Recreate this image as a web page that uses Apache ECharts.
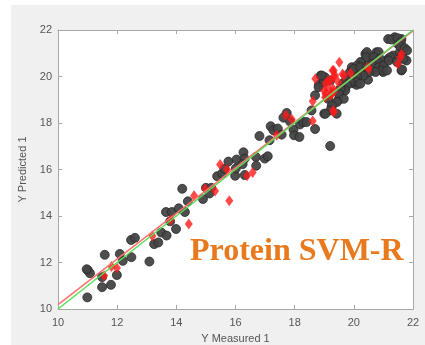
<!DOCTYPE html>
<html>
<head>
<meta charset="utf-8">
<script src="https://cdn.jsdelivr.net/npm/echarts@6/dist/echarts.min.js"></script>
<style>
  html, body { margin: 0; padding: 0; background: #ffffff; }
  #chart { width: 425px; height: 345px; }
</style>
</head>
<body>
<div id="chart"></div>
<script>
// Axis ticks (both axes share the same range)
const tickValues = [10, 12, 14, 16, 18, 20, 22];

// Training samples: [measured, predicted]
const trainPoints = [
  [10.99,10.5],[11.01,11.66],[11.08,11.54],[10.97,11.71],[11.58,12.33],[11.49,11.37],
  [11.49,10.94],[11.79,11.04],[11.99,11.46],[12.09,12.37],[12.19,12.07],[12.47,12.97],
  [12.6,13.06],[12.48,12.23],[13.09,12.04],[13.25,12.79],[13.39,12.86],[13.49,13.29],
  [13.67,13.16],[13.65,14.17],[13.85,14.17],[13.79,13.77],[13.99,13.44],[14.08,14.33],
  [14.2,15.17],[14.29,14.17],[14.39,14.63],[14.9,14.73],[15.0,15.21],[15.18,15.21],
  [15.12,14.97],[15.38,15.71],[15.55,15.83],[15.63,16.03],[15.76,16.34],[15.99,15.73],
  [16.01,16.04],[16.04,16.43],[16.27,16.74],[16.31,16.47],[16.31,15.76],[16.24,16.23],
  [16.69,16.54],[16.7,16.16],[16.81,17.44],[16.99,16.47],[17.09,16.57],[17.15,17.26],
  [17.19,17.86],[17.28,17.69],[17.43,17.76],[17.56,17.5],[17.62,18.23],[17.73,18.43],
  [17.84,18.07],[17.96,17.71],[17.98,17.47],[18.16,17.4],[18.18,17.94],[18.29,18.04],
  [18.4,18.04],[18.69,17.74],[18.57,18.54],[18.69,19.19],[18.82,19.64],[18.88,20.04],
  [19.02,19.97],[19.0,18.4],[19.2,17.01],[19.13,19.04],[19.25,18.69],[19.2,19.83],
  [19.42,18.4],[19.47,18.97],[19.53,19.26],[19.64,19.71],[19.7,19.5],[19.75,19.86],
  [19.87,20.19],[19.93,20.4],[19.98,19.71],[20.09,19.64],[20.15,20.07],[20.2,20.4],
  [20.26,20.61],[20.31,20.19],[20.39,20.97],[20.48,19.86],[20.54,20.33],[20.6,20.69],
  [20.65,20.26],[20.71,20.83],[20.76,21.04],[20.88,20.47],[20.94,20.61],[20.99,20.19],
  [21.16,20.76],[21.16,21.61],[21.38,21.69],[21.49,21.4],[21.61,21.61],[21.66,21.19],
  [21.61,20.26],[21.78,20.69],[21.33,20.9],[21.55,21.04],
  [21.27,21.59],[21.48,21.65],[21.59,21.47],[21.57,21.3],[21.72,21.22],[21.63,20.93],
  [21.8,21.12],[21.63,20.3],[20.44,21.05],[20.42,20.83],[20.84,21.05],[20.67,20.83],
  [20.89,20.76],[20.78,20.62],[20.61,20.54],[20.22,20.62],[20.11,20.47],[19.99,20.33],
  [20.22,20.4],[20.44,20.4],[20.84,20.4],[21.01,20.47],[20.95,20.26],[20.73,20.19],
  [20.5,20.19],[20.33,20.04],[20.11,19.97],[20.11,19.76],[20.22,19.69],[19.88,19.76],
  [19.77,19.62],[19.71,19.4],[19.54,19.47],[19.49,19.26],[19.66,19.04],[19.43,18.9],
  [19.26,18.76],[19.21,18.54],[19.04,18.4],[18.98,19.76],[18.92,20.04],[18.81,19.54],
  [21.23,20.83],[21.18,20.69],[21.46,20.62],[21.68,20.76],[21.12,20.26]
];

// Test samples: [measured, predicted]
const testPoints = [
  [11.56,11.43],[11.81,11.83],[11.99,11.76],[13.19,13.14],[13.8,13.83],[14.42,13.66],
  [14.6,14.87],[14.98,15.17],[15.31,15.07],[15.48,16.21],[15.71,16.0],[15.79,14.66],
  [16.39,15.73],[16.58,15.87],[17.39,17.47],[17.7,18.33],[17.9,18.16],[18.61,18.09],
  [18.61,18.94],[18.7,19.9],[19.0,19.4],[19.03,19.11],[19.13,19.83],[19.25,19.26],
  [19.3,19.47],[19.28,20.26],[19.33,20.0],[19.47,19.76],[19.51,20.61],[19.62,20.11],
  [19.3,18.54],[19.89,20.14],[20.48,20.4],[21.49,20.54],[21.61,20.97],
  [19.32,20.26],[19.37,20.04],[19.04,19.69],[19.21,19.83],[19.15,19.47],[19.04,19.26],
  [19.21,19.19],[19.32,19.33],[19.66,20.04],[19.32,18.47],[20.5,20.33],[21.57,20.83]
];

// Ideal fit (y = x) and fitted regression line end points
const idealLine = [[10, 10], [22, 22]];
const fitLine = [[10, 10.19], [22, 21.96]];

const chart = echarts.init(document.getElementById('chart'), null, { renderer: 'canvas' });

const labelFont = { color: '#555', fontSize: 11, fontFamily: 'Liberation Sans, Arial, sans-serif' };
const axisBase = {
  type: 'value', min: 10, max: 22, interval: 2,
  axisLine: { show: true, onZero: false, lineStyle: { color: '#a8a8a8', width: 1 } },
  axisTick: { show: true, inside: true, length: 4, lineStyle: { color: '#a8a8a8' } },
  splitLine: { show: false }
};

chart.setOption({
  animation: false,
  backgroundColor: '#ffffff',
  graphic: [{
    type: 'rect', z: -10, silent: true,
    shape: { x: 11, y: 5, width: 420, height: 345 },
    style: { fill: '#f0f0f0' }
  }, {
    type: 'text', z: 100, left: 190, top: 236,
    style: {
      text: 'Protein SVM-R', fill: '#e8791c',
      font: 'bold 32px "Liberation Serif", "Times New Roman", serif'
    }
  }],
  grid: {
    left: 58, right: 12, top: 30, bottom: 36,
    containLabel: false, outerBoundsMode: 'none',
    show: true, backgroundColor: '#ffffff', borderWidth: 0
  },
  xAxis: [
    Object.assign({}, axisBase, {
      position: 'bottom',
      axisLabel: Object.assign({ margin: 8, formatter: v => tickValues.includes(v) ? String(v) : '' }, labelFont),
      name: 'Y Measured 1', nameLocation: 'middle', nameGap: 24,
      nameTextStyle: labelFont
    }),
    Object.assign({}, axisBase, { position: 'top', axisLabel: { show: false } })
  ],
  yAxis: [
    Object.assign({}, axisBase, {
      position: 'left',
      axisLabel: Object.assign({ margin: 6, formatter: v => String(v) }, labelFont),
      name: 'Y Predicted 1', nameLocation: 'middle', nameGap: 17, nameRotate: 90,
      nameTextStyle: labelFont
    }),
    Object.assign({}, axisBase, { position: 'right', axisLabel: { show: false } })
  ],
  series: [
    {
      type: 'scatter', data: trainPoints, symbol: 'circle', symbolSize: 9, z: 2,
      itemStyle: { color: '#444444', borderColor: '#262626', borderWidth: 0.8, opacity: 0.95 }
    },
    {
      type: 'scatter', data: testPoints, symbol: 'diamond', symbolSize: [8, 11], z: 3,
      itemStyle: { color: '#ff1a1a' }
    },
    {
      type: 'line', data: fitLine, symbol: 'none', z: 4,
      lineStyle: { color: '#ff7070', width: 1.5 }
    },
    {
      type: 'line', data: idealLine, symbol: 'none', z: 5,
      lineStyle: { color: '#55e055', width: 1.5 }
    }
  ]
});
</script>
</body>
</html>
